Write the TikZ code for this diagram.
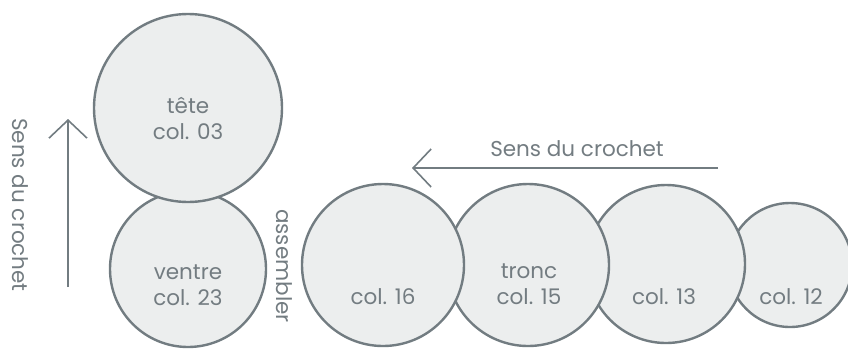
\documentclass[tikz,border=0pt]{standalone}
\usepackage{fontspec}
\setmainfont{Poppins}
\usetikzlibrary{arrows.meta}

\definecolor{ballfill}{HTML}{ECEEEE}
\definecolor{balldraw}{HTML}{727C81}
\definecolor{txtgray}{HTML}{737C81}

\tikzset{
    ball/.style={circle, draw=balldraw, fill=ballfill, line width=2.4pt, inner sep=0pt},
    lbl/.style={text=txtgray, align=center, font=\fontsize{21.5}{26}\selectfont},
    sens/.style={draw=balldraw, line width=1.6pt, -{Straight Barb[length=18pt, width=38pt, line width=1.6pt]}}
}

\begin{document}
\begin{tikzpicture}[x=1pt, y=-1pt]

    \useasboundingbox (0,0) rectangle (848,349);

    % Head and belly
    \node[ball, minimum size=156pt] (ventre) at (188,269) {};
    \node[ball, minimum size=188pt] (tete) at (188,108) {};
    \node[lbl] (tetetxt) at (188,119) {tête\\col. 03};
    \node[lbl] (ventretxt) at (188,285) {ventre\\col. 23};

    % Body, drawn from right to left
    \node[ball, minimum size=124pt] (c12) at (790,265) {};
    \node[ball, minimum size=158pt] (c13) at (666,264) {};
    \node[ball, minimum size=162pt] (c15) at (528,265) {};
    \node[ball, minimum size=162pt] (c16) at (383,265) {};
    \node[lbl] (c12txt) at (791,297) {col. 12};
    \node[lbl] (c13txt) at (664,297) {col. 13};
    \node[lbl] (c15txt) at (529,284) {tronc\\col. 15};
    \node[lbl] (c16txt) at (383,297) {col. 16};

    % Assembly mark
    \node[lbl, rotate=-90] (assembler) at (284,266) {assembler};

    % Direction of crochet
    \coordinate (up0) at (68,287);
    \coordinate (up1) at (68,119);
    \draw[sens] (up0) -- (up1);
    \node[lbl, rotate=-90] (sensup) at (20,205) {Sens du crochet};

    \coordinate (left0) at (718,168);
    \coordinate (left1) at (412,168);
    \draw[sens] (left0) -- (left1);
    \node[lbl] (sensleft) at (577,149) {Sens du crochet};

\end{tikzpicture}
\end{document}
